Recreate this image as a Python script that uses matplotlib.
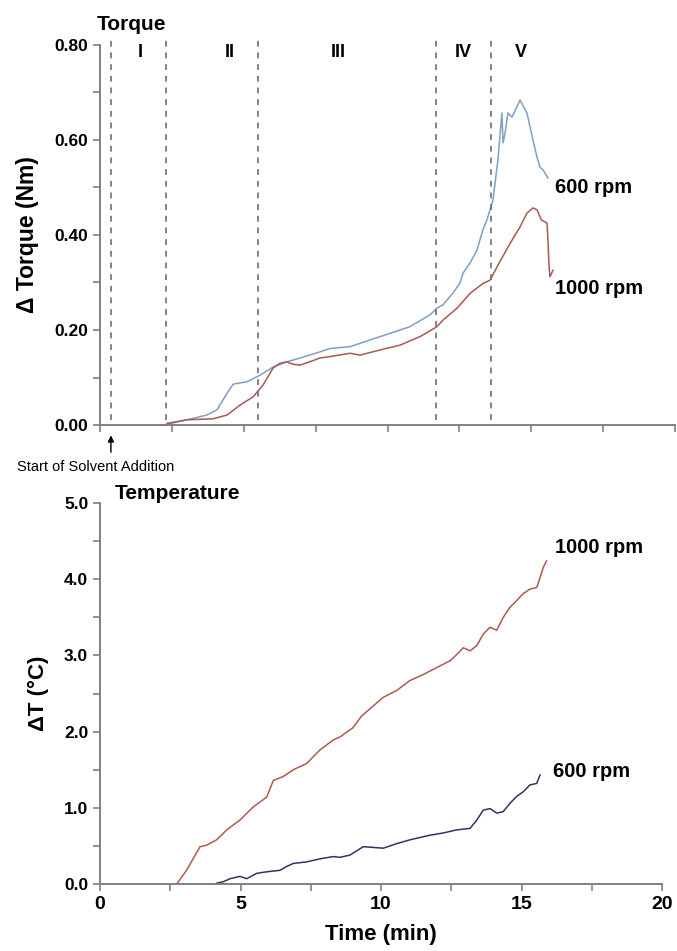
import matplotlib
matplotlib.use("Agg")
import matplotlib.pyplot as plt
from matplotlib.ticker import MultipleLocator, FormatStrFormatter

plt.rcParams['font.family'] = ['Liberation Sans', 'DejaVu Sans']

# ---------------- Data: torque (top panel) ----------------
t_tq_600 = [2.33, 3.03, 3.72, 4.07, 4.42, 4.63, 5.11, 5.57, 6.02, 6.5, 6.96, 7.55, 8.0,
            8.7, 9.39, 10.09, 10.78, 11.48, 11.72, 11.93, 12.28, 12.52, 12.63, 12.87,
            13.11, 13.32, 13.46, 13.67, 13.84, 13.98, 14.02, 14.09, 14.19, 14.33, 14.61,
            14.85, 15.06, 15.2, 15.3, 15.41, 15.58]
tq_600 = [0.004, 0.011, 0.021, 0.032, 0.067, 0.086, 0.091, 0.105, 0.122, 0.133, 0.141, 0.152, 0.161,
          0.165, 0.179, 0.193, 0.207, 0.232, 0.246, 0.253, 0.278, 0.299, 0.32, 0.341,
          0.368, 0.411, 0.432, 0.474, 0.558, 0.657, 0.594, 0.615, 0.657, 0.648, 0.684,
          0.657, 0.6, 0.564, 0.543, 0.537, 0.52]

t_tq_1000 = [2.33, 3.03, 3.93, 4.42, 4.87, 5.32, 5.67, 6.02, 6.26, 6.5, 6.71, 6.96, 7.2, 7.65, 8.0,
             8.7, 9.04, 9.74, 10.43, 11.13, 11.72, 11.93, 12.42, 12.87, 13.32, 13.57, 13.81,
             14.26, 14.61, 14.85, 15.06, 15.2, 15.35, 15.55, 15.58, 15.6, 15.62, 15.65, 15.76]
tq_1000 = [0.002, 0.011, 0.013, 0.021, 0.042, 0.059, 0.084, 0.12, 0.13, 0.133, 0.128, 0.126, 0.131, 0.141, 0.144,
           0.151, 0.147, 0.158, 0.168, 0.186, 0.207, 0.221, 0.246, 0.277, 0.298, 0.305, 0.333,
           0.382, 0.417, 0.446, 0.457, 0.453, 0.432, 0.425, 0.389, 0.362, 0.333, 0.312, 0.326]

# ---------------- Data: temperature (bottom panel) ----------------
t_T_1000 = [2.73, 3.08, 3.56, 3.8, 4.15, 4.51, 4.98, 5.45, 5.93, 6.17, 6.52, 6.88, 7.35, 7.83,
            8.3, 8.54, 9.0, 9.3, 9.61, 10.08, 10.56, 11.03, 11.51, 11.98, 12.46, 12.69, 12.93,
            13.17, 13.41, 13.64, 13.88, 14.12, 14.35, 14.59, 14.83, 15.06, 15.3, 15.54, 15.66,
            15.77, 15.89]
T_1000 = [0.0, 0.18, 0.49, 0.51, 0.58, 0.71, 0.84, 1.01, 1.14, 1.36, 1.41, 1.5, 1.58, 1.76,
          1.89, 1.93, 2.05, 2.2, 2.3, 2.45, 2.54, 2.67, 2.75, 2.84, 2.93, 3.01, 3.1,
          3.06, 3.13, 3.28, 3.37, 3.33, 3.5, 3.63, 3.72, 3.81, 3.87, 3.89, 4.02,
          4.15, 4.24]

t_T_600 = [4.15, 4.39, 4.63, 4.98, 5.22, 5.58, 5.93, 6.41, 6.64, 6.88, 7.35, 7.83, 8.3, 8.54,
           8.9, 9.37, 10.08, 10.56, 11.03, 11.74, 12.22, 12.69, 13.17, 13.41, 13.64, 13.88,
           14.12, 14.35, 14.59, 14.83, 15.06, 15.3, 15.54, 15.66]
T_600 = [0.01, 0.03, 0.07, 0.1, 0.07, 0.14, 0.16, 0.18, 0.23, 0.27, 0.29, 0.33, 0.36, 0.35,
         0.38, 0.49, 0.47, 0.53, 0.58, 0.64, 0.67, 0.71, 0.73, 0.84, 0.97, 0.99,
         0.93, 0.95, 1.06, 1.15, 1.21, 1.3, 1.32, 1.43]

phase_lines = [0.38, 2.3, 5.5, 11.7, 13.6]
phase_labels = ['I', 'II', 'III', 'IV', 'V']
phase_label_x = [1.39, 4.52, 8.28, 12.63, 14.64]

# ---------------- Figure ----------------
W, H = 677, 951
fig = plt.figure(figsize=(W / 100, H / 100), dpi=100)
fig.patch.set_facecolor('white')

ax1 = fig.add_axes([100 / W, 1 - 425 / H, 575 / W, 380 / H])
ax2 = fig.add_axes([100 / W, 1 - 884 / H, 562 / W, 381 / H])

spine_col = '#808080'
for ax in (ax1, ax2):
    for s in ('top', 'right'):
        ax.spines[s].set_visible(False)
    for s in ('left', 'bottom'):
        ax.spines[s].set_color(spine_col)
        ax.spines[s].set_linewidth(1.4)
    ax.tick_params(which='both', direction='out', color=spine_col, width=1.2)
    ax.tick_params(which='major', length=5, labelsize=12.5)
    ax.tick_params(which='minor', length=5)
    ax.set_xlim(0, 20)

# Top panel
blue_light = '#7f9fc4'
red_brown = '#a65a52'
ax1.plot(t_tq_600, tq_600, color=blue_light, lw=1.1)
ax1.plot(t_tq_1000, tq_1000, color=red_brown, lw=1.1)
ax1.set_ylim(0, 0.8)
ax1.yaxis.set_major_locator(MultipleLocator(0.2))
ax1.yaxis.set_minor_locator(MultipleLocator(0.1))
ax1.yaxis.set_major_formatter(FormatStrFormatter('%.2f'))
ax1.xaxis.set_major_locator(MultipleLocator(2.5))
ax1.tick_params(axis='x', labelbottom=False)
for lab in ax1.get_yticklabels():
    lab.set_fontweight('bold')

for x in phase_lines:
    ax1.plot([x, x], [0.01, 0.81], color='#6e6e6e', lw=1.2, ls=(0, (3.5, 3.5)), clip_on=False)
for x, lab in zip(phase_label_x, phase_labels):
    ax1.text(x, 0.785, lab, ha='center', va='center', fontsize=13, fontweight='bold')

ax1.set_ylabel('Δ Torque (Nm)', fontsize=16.5, fontweight='bold', labelpad=11)
ax1.text(-0.005, 1.053, 'Torque', transform=ax1.transAxes, ha='left', va='center',
         fontsize=15, fontweight='bold')
ax1.text(15.83, 0.501, '600 rpm', ha='left', va='center', fontsize=14.5, fontweight='bold')
ax1.text(15.83, 0.288, '1000 rpm', ha='left', va='center', fontsize=14.5, fontweight='bold')

ax1.annotate('', xy=(0.38, -0.016), xytext=(0.38, -0.063),
             arrowprops=dict(arrowstyle='-|>', color='black', lw=1.0, mutation_scale=9),
             annotation_clip=False)
fig.text(17 / W, 1 - 467 / H, 'Start of Solvent Addition', ha='left', va='center', fontsize=10.5)

# Bottom panel
red_T = '#b0584e'
navy = '#2b3664'
ax2.plot(t_T_1000, T_1000, color=red_T, lw=1.1)
ax2.plot(t_T_600, T_600, color=navy, lw=1.1)
ax2.set_ylim(0, 5)
ax2.yaxis.set_major_locator(MultipleLocator(1.0))
ax2.yaxis.set_minor_locator(MultipleLocator(0.5))
ax2.yaxis.set_major_formatter(FormatStrFormatter('%.1f'))
ax2.xaxis.set_major_locator(MultipleLocator(5))
ax2.xaxis.set_minor_locator(MultipleLocator(2.5))
for lab in ax2.get_yticklabels() + ax2.get_xticklabels():
    lab.set_fontweight('bold')
ax2.tick_params(axis='x', labelsize=14)

ax2.set_ylabel('ΔT (°C)', fontsize=16, fontweight='bold', labelpad=11)
ax2.set_xlabel('Time (min)', fontsize=16, fontweight='bold', labelpad=8)
ax2.text(0.027, 1.026, 'Temperature', transform=ax2.transAxes, ha='left', va='center',
         fontsize=15, fontweight='bold')
ax2.text(16.19, 4.42, '1000 rpm', ha='left', va='center', fontsize=14.5, fontweight='bold')
ax2.text(16.12, 1.47, '600 rpm', ha='left', va='center', fontsize=14.5, fontweight='bold')

fig.savefig('out.png', dpi=100, facecolor='white')
